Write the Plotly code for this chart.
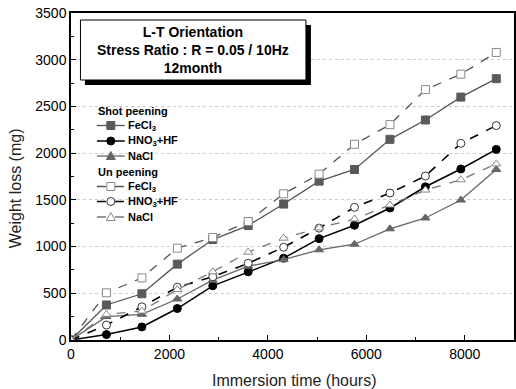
import plotly.graph_objects as go

hours = [0, 720, 1440, 2160, 2880, 3600, 4320, 5040, 5760, 6480, 7200, 7920, 8640]

shot_fecl3 = [0, 375, 495, 812, 1075, 1225, 1455, 1700, 1825, 2148, 2355, 2600, 2797]
shot_hno3 = [0, 58, 140, 337, 580, 730, 876, 1085, 1228, 1413, 1640, 1830, 2040]
shot_nacl = [0, 250, 275, 439, 640, 790, 860, 965, 1025, 1190, 1306, 1498, 1825]
un_fecl3 = [0, 505, 665, 983, 1097, 1268, 1565, 1775, 2095, 2305, 2680, 2845, 3078]
un_hno3 = [0, 160, 355, 565, 677, 821, 993, 1197, 1420, 1573, 1755, 2105, 2295]
un_nacl = [0, 275, 310, 540, 730, 940, 1090, 1200, 1295, 1445, 1605, 1715, 1885]

group_titles = ["Shot peening", "Un peening"]
series_labels = ["FeCl<sub>3</sub>", "HNO<sub>3</sub>+HF", "NaCl"]
x_ticks = [0, 2000, 4000, 6000, 8000]
y_ticks = [0, 500, 1000, 1500, 2000, 2500, 3000, 3500]

FONT = "Liberation Sans, Arial, sans-serif"

L, T, B = 71, 13, 49
W, H = 516, 389
pw = W - L
ph = H - T - B


def px(x):
    return (x - L) / pw


def py(y):
    return (H - B - y) / ph


fig = go.Figure()

styles = [
    # (values, dash, line color, line width, marker symbol, fill, outline)
    (shot_fecl3, "solid", "#555555", 1.3, "square", "#5a5a5a", "#5a5a5a"),
    (shot_hno3, "solid", "#000000", 1.5, "circle", "#000000", "#000000"),
    (shot_nacl, "solid", "#666666", 1.3, "triangle-up", "#666666", "#666666"),
    (un_fecl3, "dash", "#555555", 1.3, "square", "white", "#888888"),
    (un_hno3, "dash", "#000000", 1.6, "circle", "white", "#333333"),
    (un_nacl, "dash", "#777777", 1.3, "triangle-up", "white", "#888888"),
]

for i, (vals, dash, lc, lw, sym, fill, outl) in enumerate(styles):
    fig.add_trace(go.Scatter(
        x=hours, y=vals, mode="lines+markers", showlegend=False,
        name=(group_titles[i // 3] + " " + series_labels[i % 3]),
        line=dict(color=lc, width=lw, dash=dash),
        marker=dict(symbol=sym, size=8, color=fill, line=dict(color=outl, width=1)),
    ))

# ---- manual legend (tight spacing like the reference) ----
row_y = [125.5, 141, 156, 186.5, 201.5, 217]
head_y = [110.5, 171.5]
lx0, lx1, mx, tx = 97, 125, 111, 126
for g, hy in enumerate(head_y):
    fig.add_annotation(xref="paper", yref="paper", x=px(lx0 - 1), y=py(hy),
                       text="<b>" + group_titles[g] + "</b>", showarrow=False,
                       xanchor="left", yanchor="middle",
                       font=dict(size=11, color="black", family=FONT))
for i, (vals, dash, lc, lw, sym, fill, outl) in enumerate(styles):
    yy = row_y[i]
    fig.add_shape(type="line", xref="paper", yref="paper",
                  x0=px(lx0), x1=px(lx1), y0=py(yy), y1=py(yy),
                  line=dict(color=lc, width=lw, dash=dash), layer="above")
    s = 4
    if sym == "square":
        fig.add_shape(type="rect", xref="paper", yref="paper",
                      x0=px(mx - s), x1=px(mx + s), y0=py(yy + s), y1=py(yy - s),
                      fillcolor=fill, line=dict(color=outl, width=1), layer="above")
    elif sym == "circle":
        fig.add_shape(type="circle", xref="paper", yref="paper",
                      x0=px(mx - s), x1=px(mx + s), y0=py(yy + s), y1=py(yy - s),
                      fillcolor=fill, line=dict(color=outl, width=1), layer="above")
    else:
        path = "M {} {} L {} {} L {} {} Z".format(
            px(mx - s - 0.5), py(yy + s - 0.5), px(mx + s + 0.5), py(yy + s - 0.5), px(mx), py(yy - s - 0.5))
        fig.add_shape(type="path", xref="paper", yref="paper", path=path,
                      fillcolor=fill, line=dict(color=outl, width=1), layer="above")
    fig.add_annotation(xref="paper", yref="paper", x=px(tx), y=py(yy),
                       text="<b>" + series_labels[i % 3] + "</b>", showarrow=False,
                       xanchor="left", yanchor="middle",
                       font=dict(size=11, color="black", family=FONT))

# ---- title box with shadow ----
fig.add_shape(type="rect", xref="paper", yref="paper",
              x0=px(85), x1=px(312), y0=py(85), y1=py(25),
              fillcolor="black", line=dict(width=0), layer="above")
fig.add_shape(type="rect", xref="paper", yref="paper",
              x0=px(80.5), x1=px(307), y0=py(80), y1=py(20),
              fillcolor="white", line=dict(color="black", width=1), layer="above")
fig.add_annotation(xref="paper", yref="paper", x=px(193.5), y=py(50.5),
                   text="<b>L-T Orientation<br>Stress Ratio : R = 0.05 / 10Hz<br>12month</b>",
                   showarrow=False, font=dict(size=14, color="black", family=FONT),
                   xanchor="center", yanchor="middle", align="center")

# ---- axis titles (placed like the reference) ----
fig.add_annotation(xref="paper", yref="paper", x=px(295), y=py(380.5),
                   text="Immersion time (hours)", showarrow=False,
                   xanchor="center", yanchor="middle",
                   font=dict(size=16, color="#222222", family=FONT))
fig.add_annotation(xref="paper", yref="paper", x=px(15), y=py(188),
                   text="Weight loss (mg)", showarrow=False, textangle=-90,
                   xanchor="center", yanchor="middle",
                   font=dict(size=16, color="#222222", family=FONT))

fig.update_layout(
    width=W, height=H,
    margin=dict(l=L, r=0, t=T, b=B),
    paper_bgcolor="white", plot_bgcolor="white",
    font=dict(family=FONT, color="black"),
    showlegend=False,
    xaxis=dict(range=[0, 9000], tickvals=x_ticks,
               ticks="inside", ticklen=5, tickwidth=1, tickcolor="black",
               minor=dict(tickvals=[1000, 3000, 5000, 7000], ticks="inside", ticklen=3, tickcolor="black"),
               showline=True, linecolor="black", linewidth=1.5, mirror=True,
               showgrid=False, zeroline=False,
               tickfont=dict(size=14, color="black", family=FONT)),
    yaxis=dict(range=[0, 3500], tickvals=y_ticks,
               ticks="inside", ticklen=5, tickwidth=1, tickcolor="black",
               minor=dict(tickvals=[250, 750, 1250, 1750, 2250, 2750, 3250], ticks="inside", ticklen=3,
                          tickcolor="black", showgrid=False),
               showline=True, linecolor="black", linewidth=1.5, mirror=True,
               showgrid=True, gridcolor="#cccccc", griddash="dot", gridwidth=1,
               zeroline=False,
               tickfont=dict(size=14, color="black", family=FONT)),
)

fig.write_html("out.html")
